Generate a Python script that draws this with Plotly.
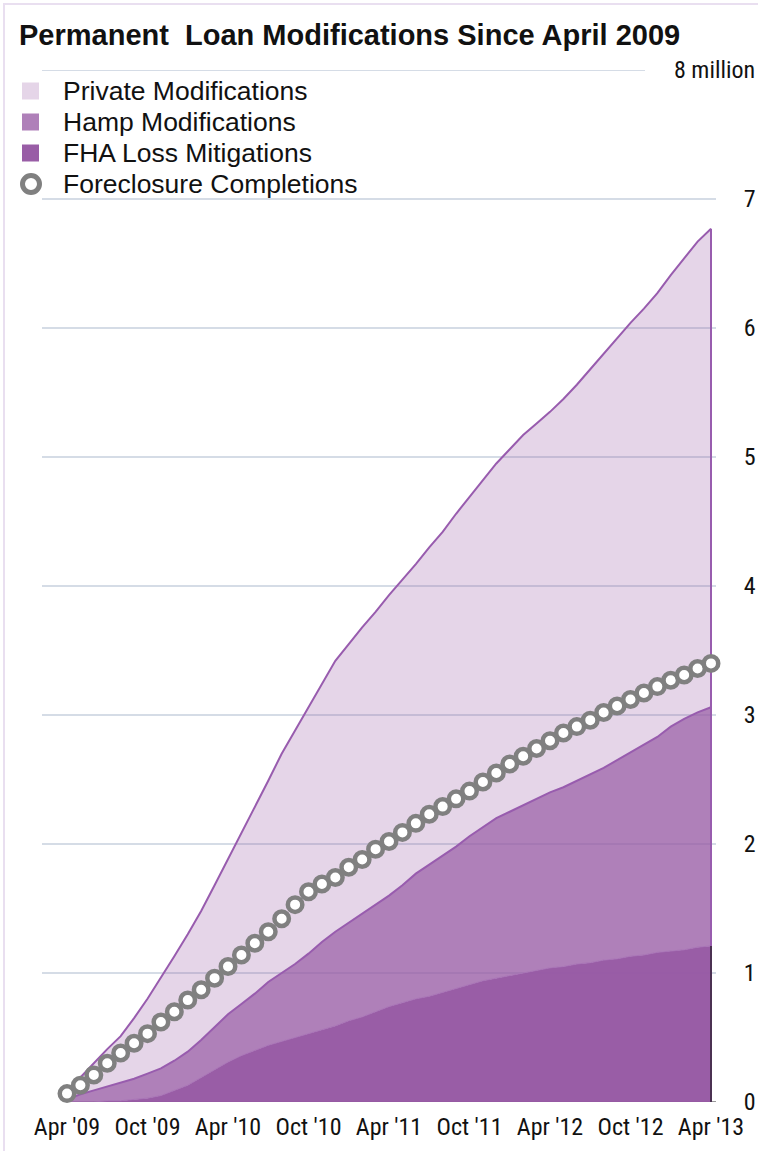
import plotly.graph_objects as go
import numpy as np

# ---------------- data (millions, monthly Apr 2009 .. Apr 2013) ----------------
month_index = list(range(49))
tick_positions = [0, 6, 12, 18, 24, 30, 36, 42, 48]
tick_labels = ["Apr '09", "Oct '09", "Apr '10", "Oct '10", "Apr '11",
               "Oct '11", "Apr '12", "Oct '12", "Apr '13"]
y_ticks = [0, 1, 2, 3, 4, 5, 6, 7]

fha_loss_mitigations = [
    0.00, 0.00, 0.00, 0.01, 0.01, 0.02, 0.03, 0.05, 0.09, 0.13,
    0.19, 0.25, 0.31, 0.36, 0.40, 0.44, 0.47, 0.50, 0.53, 0.56,
    0.59, 0.63, 0.66, 0.70, 0.74, 0.77, 0.80, 0.82, 0.85, 0.88,
    0.91, 0.94, 0.96, 0.98, 1.00, 1.02, 1.04, 1.05, 1.07, 1.08,
    1.10, 1.11, 1.13, 1.14, 1.16, 1.17, 1.18, 1.20, 1.21]
hamp_modifications = [
    0.02, 0.06, 0.09, 0.11, 0.14, 0.16, 0.19, 0.21, 0.23, 0.26,
    0.29, 0.33, 0.37, 0.40, 0.44, 0.49, 0.53, 0.57, 0.62, 0.68,
    0.73, 0.76, 0.80, 0.83, 0.86, 0.91, 0.97, 1.02, 1.06, 1.10,
    1.15, 1.19, 1.24, 1.27, 1.30, 1.33, 1.36, 1.39, 1.42, 1.46,
    1.49, 1.54, 1.58, 1.63, 1.67, 1.74, 1.79, 1.82, 1.85]
private_modifications = [
    0.01, 0.13, 0.21, 0.29, 0.36, 0.47, 0.58, 0.70, 0.81, 0.91,
    1.00, 1.10, 1.20, 1.32, 1.44, 1.56, 1.70, 1.81, 1.90, 2.00,
    2.10, 2.16, 2.22, 2.27, 2.33, 2.37, 2.40, 2.46, 2.51, 2.58,
    2.63, 2.69, 2.75, 2.81, 2.87, 2.91, 2.95, 3.01, 3.07, 3.14,
    3.21, 3.27, 3.33, 3.38, 3.44, 3.50, 3.57, 3.65, 3.71]
foreclosure_completions = [
    0.065, 0.13, 0.21, 0.30, 0.38, 0.455, 0.53, 0.62, 0.70, 0.79,
    0.87, 0.96, 1.05, 1.14, 1.23, 1.32, 1.42, 1.53, 1.63, 1.69,
    1.74, 1.82, 1.88, 1.96, 2.02, 2.09, 2.16, 2.23, 2.29, 2.35,
    2.41, 2.48, 2.55, 2.62, 2.68, 2.74, 2.80, 2.86, 2.91, 2.96,
    3.02, 3.07, 3.12, 3.17, 3.22, 3.27, 3.31, 3.36, 3.40]

legend_names = ["Private Modifications", "Hamp Modifications",
                "FHA Loss Mitigations", "Foreclosure Completions"]

# ---------------- geometry / style ----------------
W, H = 758, 1151
ML, MR, MT, MB = 42, 42, 70, 49
PW, PH = W - ML - MR, H - MT - MB


def px(x):
    return (x - ML) / PW


def py(y):
    return (H - MB - y) / PH


BASE = "150,88,163"
C_PRIVATE = f"rgba({BASE},0.25)"
C_HAMP = f"rgba({BASE},0.76)"
C_FHA = f"rgba({BASE},0.97)"
LINE = "#985cae"
GRID = "#d5dce6"
TXT = "#111111"
NARROW = "Liberation Sans Narrow, Arial Narrow, Roboto Condensed, DejaVu Sans Condensed, sans-serif"
SANS = "Liberation Sans, Arial, Helvetica, sans-serif"

fig = go.Figure()

fig.add_trace(go.Scatter(x=month_index, y=fha_loss_mitigations, stackgroup="one",
                         mode="lines", line=dict(color="#a873b6", width=1),
                         fillcolor=C_FHA, name=legend_names[2], hoverinfo="skip"))
fig.add_trace(go.Scatter(x=month_index, y=hamp_modifications, stackgroup="one",
                         mode="lines", line=dict(color=LINE, width=2),
                         fillcolor=C_HAMP, name=legend_names[1], hoverinfo="skip"))
fig.add_trace(go.Scatter(x=month_index, y=private_modifications, stackgroup="one",
                         mode="lines", line=dict(color=LINE, width=2),
                         fillcolor=C_PRIVATE, name=legend_names[0], hoverinfo="skip"))

# closing edges of the stacked areas at the last month
last = month_index[-1]
fha_end = fha_loss_mitigations[-1]
total_end = fha_end + hamp_modifications[-1] + private_modifications[-1]
fig.add_trace(go.Scatter(x=[last, last], y=[0, fha_end], mode="lines",
                         line=dict(color="#4b3152", width=2), hoverinfo="skip"))
fig.add_trace(go.Scatter(x=[last, last], y=[fha_end, total_end], mode="lines",
                         line=dict(color=LINE, width=2), hoverinfo="skip"))

fig.add_trace(go.Scatter(x=month_index, y=foreclosure_completions, mode="markers",
                         marker=dict(symbol="circle", size=14.5, color="white",
                                     line=dict(color="#808080", width=4.5)),
                         cliponaxis=False, name=legend_names[3], hoverinfo="skip"))

shapes = []
# gridlines
for v in y_ticks[1:]:
    shapes.append(dict(type="line", xref="paper", yref="y", x0=0, x1=1, y0=v, y1=v,
                       line=dict(color=GRID, width=2), layer="below"))
shapes.append(dict(type="line", xref="paper", yref="y", x0=0, x1=px(645), y0=8, y1=8,
                   line=dict(color=GRID, width=2), layer="below"))
# zero line
shapes.append(dict(type="line", xref="x", yref="y", x0=0, x1=48.5, y0=0, y1=0,
                   line=dict(color="#9a9a9a", width=2), layer="below"))
# frame
shapes.append(dict(type="rect", xref="paper", yref="paper",
                   x0=px(4), x1=px(W + 10), y0=py(H + 10), y1=py(4),
                   line=dict(color="#e9dff0", width=2), fillcolor="rgba(0,0,0,0)",
                   layer="below"))

# manual legend
row_y = [91, 122, 153, 184]
sw_colors = [C_PRIVATE, C_HAMP, C_FHA]
for i in range(3):
    shapes.append(dict(type="rect", xref="paper", yref="paper",
                       x0=px(22), x1=px(39), y0=py(row_y[i] + 8.5), y1=py(row_y[i] - 8.5),
                       line=dict(width=0), fillcolor=sw_colors[i]))
shapes.append(dict(type="circle", xref="paper", yref="paper",
                   x0=px(31 - 8.5), x1=px(31 + 8.5), y0=py(184 + 8.5), y1=py(184 - 8.5),
                   line=dict(color="#808080", width=5), fillcolor="white"))

annotations = []
for i, name in enumerate(legend_names):
    annotations.append(dict(text=name, xref="paper", yref="paper", x=px(61), y=py(row_y[i]),
                            xanchor="left", yanchor="middle", showarrow=False,
                            font=dict(family=SANS, size=26.5, color=TXT)))
annotations.append(dict(text="<b>Permanent  Loan Modifications Since April 2009</b>",
                        xref="paper", yref="paper", x=px(17), y=py(35),
                        xanchor="left", yanchor="middle", showarrow=False,
                        font=dict(family=SANS, size=29, color=TXT)))
annotations.append(dict(text="8 million", xref="paper", yref="y", x=px(757), y=8,
                        xanchor="right", yanchor="middle", showarrow=False,
                        font=dict(family=NARROW, size=24, color=TXT)))

fig.update_layout(
    width=W, height=H,
    margin=dict(l=ML, r=MR, t=MT, b=MB, pad=0, autoexpand=False),
    paper_bgcolor="white", plot_bgcolor="white",
    showlegend=False,
    shapes=shapes, annotations=annotations,
    xaxis=dict(range=[-25 / 13.4167, 48 + 5 / 13.4167], tickmode="array",
               tickvals=tick_positions, ticktext=tick_labels, showgrid=False,
               zeroline=False, showline=False, ticks="", ticklabelstandoff=8,
               automargin=False,
               tickfont=dict(family=NARROW, size=24, color=TXT), fixedrange=True),
    yaxis=dict(range=[0, 8], side="right", tickmode="array", tickvals=y_ticks,
               ticktext=[str(v) for v in y_ticks], showgrid=False, zeroline=False,
               showline=False, ticks="outside", ticklen=22, tickcolor="rgba(0,0,0,0)",
               automargin=False,
               tickfont=dict(family=NARROW, size=24, color=TXT), fixedrange=True),
)

fig.write_html("out.html", include_plotlyjs=True)
